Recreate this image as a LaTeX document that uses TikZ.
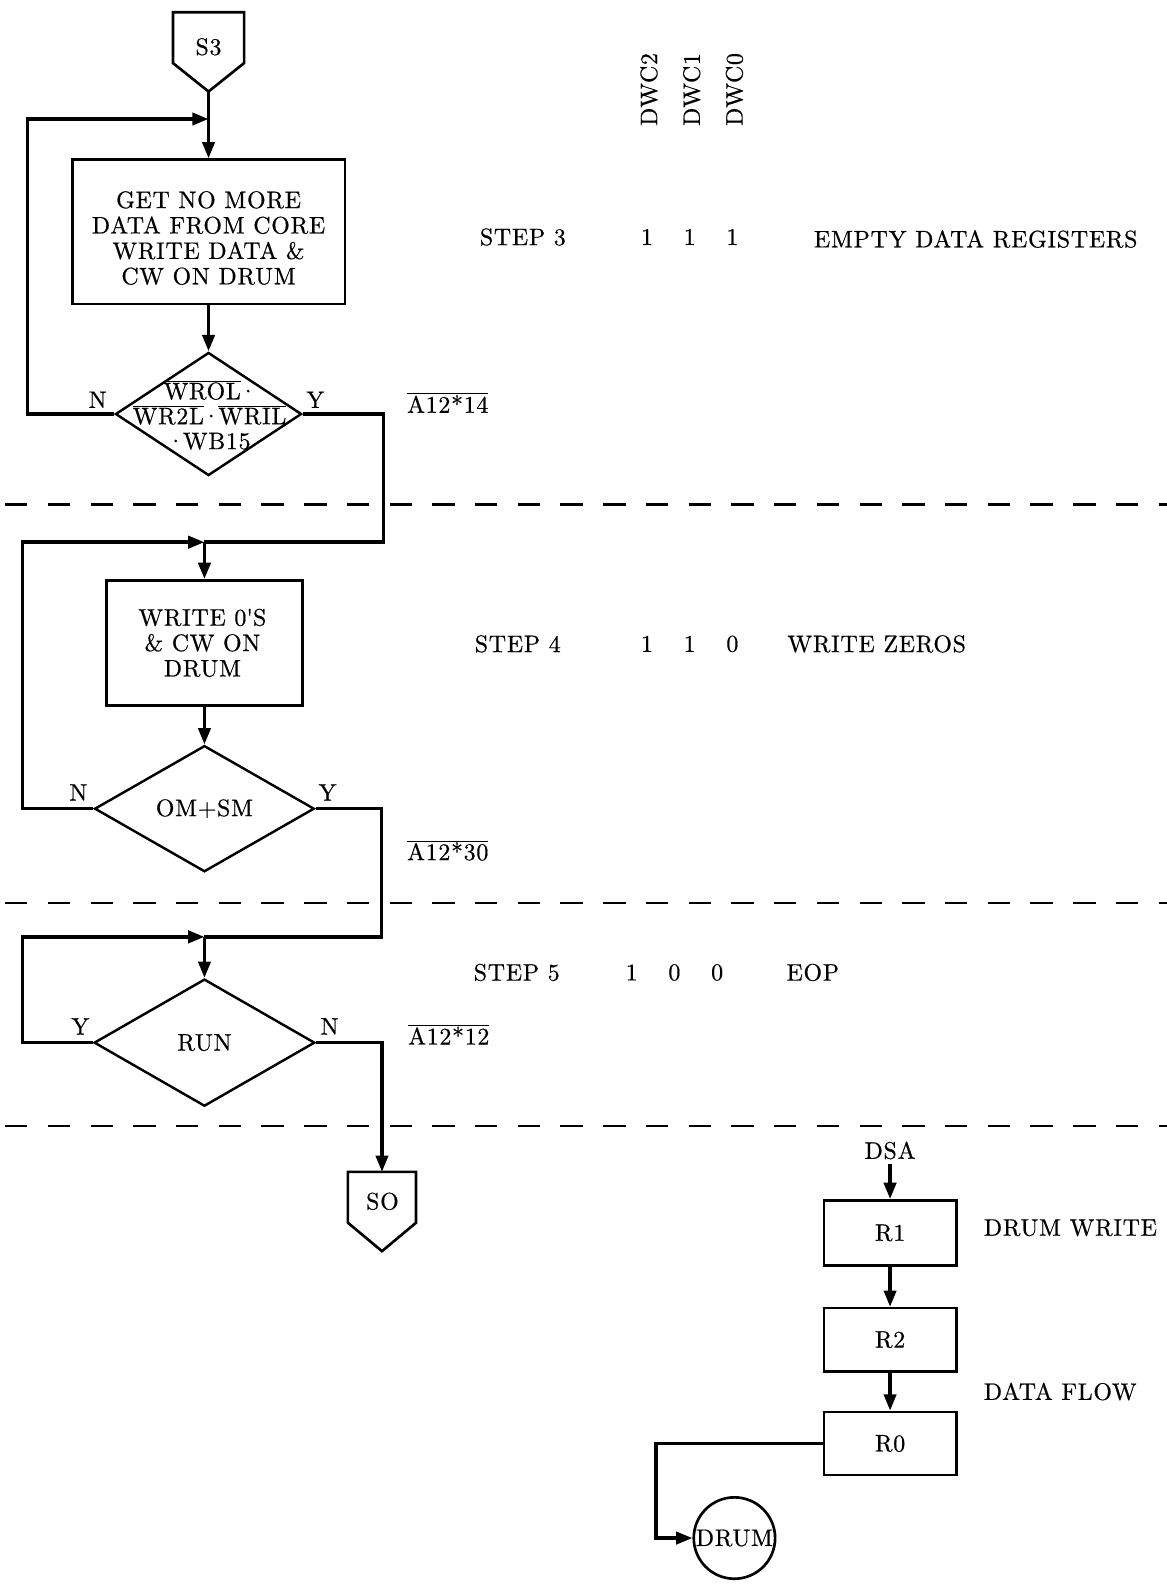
\documentclass[tikz,border=0pt]{standalone}
\usepackage{fontspec}
\setmainfont{lmroman10-regular.otf}[LetterSpace=3,FakeBold=0.6]
\usetikzlibrary{arrows.meta,shapes.geometric}
\newcommand\myovl[1]{$\overline{\mbox{#1}}$}
\newcommand\mdot{{\addfontfeatures{LetterSpace=0}\kern-2pt·\kern-2pt}}
\begin{document}
\begin{tikzpicture}[x=1pt,y=-1pt,
  flow/.style={line width=3.4pt,-{Triangle[length=16pt,width=12pt]}},
  plain/.style={line width=3.4pt},
  procbox/.style={draw,line width=2.6pt,inner sep=0pt},
  decis/.style={draw,diamond,line width=2.4pt,inner sep=0pt},
  txt/.style={font=\fontsize{23.5}{25}\selectfont,align=center,inner sep=0pt},
  sepline/.style={line width=2.2pt,dash pattern=on 22pt off 20pt},
  outline/.style={draw,line width=2.6pt}]
\useasboundingbox (0,0) rectangle (1147,1568);

% header
\node[txt,rotate=90] (h2) at (638,88) {DWC2};
\node[txt,rotate=90] (h1) at (680,88) {DWC1};
\node[txt,rotate=90] (h0) at (722,88) {DWC0};

% rows
\node[txt] (st3) at (514,233) {STEP 3};
\node[txt] (v3a) at (636,233) {1};
\node[txt] (v3b) at (678,233) {1};
\node[txt] (v3c) at (720,233) {1};
\node[txt,anchor=west] (e3) at (800,235) {EMPTY DATA REGISTERS};

\node[txt] (st4) at (509,633) {STEP 4};
\node[txt] (v4a) at (636,633) {1};
\node[txt] (v4b) at (678,633) {1};
\node[txt] (v4c) at (720,633) {0};
\node[txt,anchor=west] (e4) at (774,633) {WRITE ZEROS};

\node[txt] (st5) at (508,956) {STEP 5};
\node[txt] (v5a) at (621,956) {1};
\node[txt] (v5b) at (663,956) {0};
\node[txt] (v5c) at (705,956) {0};
\node[txt,anchor=west] (e5) at (773,956) {EOP};

% separators
\draw[sepline] (5,496) -- (1147,496);
\draw[sepline] (5,888) -- (1147,888);
\draw[sepline] (5,1107) -- (1147,1107);

% S3 connector
\node[txt] (s3) at (205,46) {S3};
\draw[outline] (170,12) -- (240,12) -- (240,62) -- (205,90) -- (170,62) -- cycle;
\coordinate (s3b) at (205,90);

% step 3
\node[procbox,minimum width=268,minimum height=142] (b1) at (205,228) {};
\node[txt] (b1t) at (205,234) {GET NO MORE\\DATA FROM CORE\\WRITE DATA \&\\CW ON DRUM};
\node[decis,minimum width=183,minimum height=121] (d1) at (205,407) {};
\node[txt,font=\fontsize{23.5}{24.5}\selectfont] (d1t) at (206,408) {\myovl{WROL}\mdot\\\myovl{WR2L}\mdot\myovl{WRIL}\\\mdot WB15};
\node[txt] (n1) at (96,393) {N};
\node[txt] (y1) at (310,393) {Y};
\node[txt,anchor=west] (a14) at (400,396) {\myovl{A12*14}};

\coordinate (j1) at (205,117);
\coordinate (l1) at (27,117);
\draw[plain] (s3b) -- (j1);
\draw[flow] (j1) -- (b1.north);
\draw[flow] (b1.south) -- (d1.north);
\draw[flow] (d1.west) -| (l1) -- (j1);

% step 4
\node[procbox,minimum width=193,minimum height=123] (b2) at (201,632) {};
\node[txt] (b2t) at (199,632) {WRITE 0\textquotesingle S\\\& CW ON\\DRUM};
\node[decis,minimum width=216,minimum height=124] (d2) at (201,795) {};
\node[txt] (d2t) at (201,795) {OM+SM};
\node[txt] (n2) at (77,779) {N};
\node[txt] (y2) at (322,779) {Y};
\node[txt,anchor=west] (a30) at (400,836) {\myovl{A12*30}};

\coordinate (r1) at (377,533);
\coordinate (j2) at (201,533);
\coordinate (l2) at (22,533);
\draw[plain] (d1.east) -| (r1) -- (j2);
\draw[flow] (d2.west) -| (l2) -- (j2);
\draw[flow] (j2) -- (b2.north);
\draw[flow] (b2.south) -- (d2.north);

% step 5
\node[decis,minimum width=217,minimum height=125] (d3) at (201,1025) {};
\node[txt] (d3t) at (201,1025) {RUN};
\node[txt] (y3) at (79,1009) {Y};
\node[txt] (n3) at (324,1009) {N};
\node[txt,anchor=west] (a12) at (401,1017) {\myovl{A12*12}};

\coordinate (r2) at (375,921);
\coordinate (j3) at (201,921);
\coordinate (l3) at (22,921);
\draw[plain] (d2.east) -| (r2) -- (j3);
\draw[flow] (d3.west) -| (l3) -- (j3);
\draw[flow] (j3) -- (d3.north);

% SO connector
\node[txt] (so) at (376,1181) {SO};
\draw[outline] (342,1152) -- (409,1152) -- (409,1202) -- (375.5,1230) -- (342,1202) -- cycle;
\coordinate (sot) at (375.5,1152);
\draw[flow] (d3.east) -| (sot);

% data flow
\node[txt] (dsa) at (875,1131) {DSA};
\node[procbox,minimum width=130,minimum height=64,txt] (rb1) at (875,1212) {R1};
\node[procbox,minimum width=130,minimum height=62,txt] (rb2) at (875,1317) {R2};
\node[procbox,minimum width=130,minimum height=62,txt] (rb0) at (875,1419) {R0};
\node[draw,circle,line width=2.6pt,minimum size=80,inner sep=0pt,txt] (drum) at (722,1512) {\makebox[0pt]{DRUM}};
\node[txt,anchor=west] (dw) at (967,1207) {DRUM WRITE};
\node[txt,anchor=west] (df) at (967,1368) {DATA FLOW};

\coordinate (c1) at (645,1512);
\draw[flow,shorten <=4pt] (dsa) -- (rb1);
\draw[flow] (rb1) -- (rb2);
\draw[flow] (rb2) -- (rb0);
\draw[flow] (rb0.west) -| (c1) -- (drum.west);
\end{tikzpicture}
\end{document}
